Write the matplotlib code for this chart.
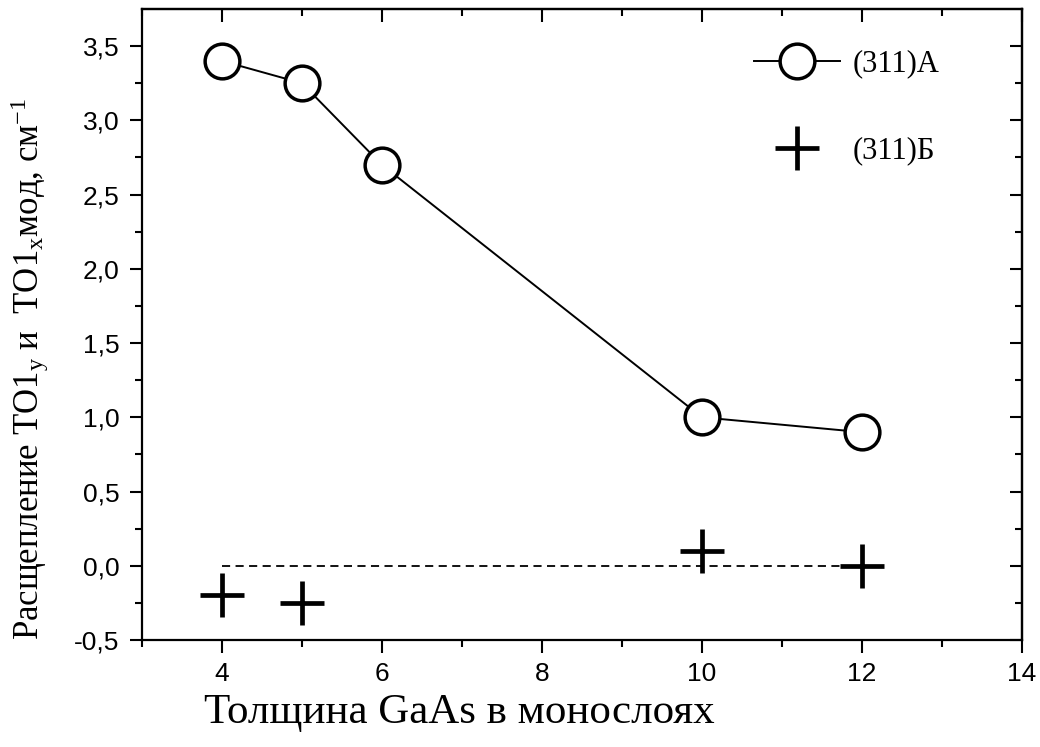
import matplotlib
matplotlib.use("Agg")
import matplotlib.pyplot as plt

# data
x_a = [4, 5, 6, 10, 12]
y_a = [3.4, 3.25, 2.7, 1.0, 0.9]
x_b = [4, 5, 10, 12]
y_b = [-0.2, -0.25, 0.1, 0.0]
zero_x = [4, 12]
zero_y = [0.0, 0.0]

x_ticks = [4, 6, 8, 10, 12, 14]
y_ticks = [-0.5, 0.0, 0.5, 1.0, 1.5, 2.0, 2.5, 3.0, 3.5]
y_ticklabels = [f"{v:.1f}".replace(".", ",") for v in y_ticks]

plt.rcParams["mathtext.fontset"] = "custom"
plt.rcParams["mathtext.rm"] = "Liberation Serif"
plt.rcParams["mathtext.it"] = "Liberation Serif:italic"

fig = plt.figure(figsize=(10.4, 7.47), dpi=100)
ax = fig.add_axes([0.1365, 0.1432, 0.8462, 0.8448])

ax.plot(zero_x, zero_y, ls=(0, (4.5, 3)), color="black", lw=1.3)
ax.plot(x_a, y_a, "-o", color="black", lw=1.4, ms=25, mfc="white", mec="black", mew=2.5,
        label="(311)A")
ax.plot(x_b, y_b, "+", color="black", ms=31, mew=3.4, ls="none", label="(311)Б")

ax.set_xlim(3, 14)
ax.set_ylim(-0.5, 3.75)
ax.set_xticks(x_ticks)
ax.set_xticks(range(3, 15, 2), minor=True)
ax.set_yticks(y_ticks)
ax.set_yticklabels(y_ticklabels)
ax.set_yticks([v + 0.25 for v in y_ticks[:-1]], minor=True)

for lab in ax.get_xticklabels() + ax.get_yticklabels():
    lab.set_fontfamily("Liberation Sans")
    lab.set_fontsize(19)

ax.tick_params(which="major", direction="out", length=9, width=1.5, pad=7)
ax.tick_params(which="minor", direction="out", length=5, width=1.5)
for s in ax.spines.values():
    s.set_linewidth(1.6)

# inward ticks on the top and right sides
top = ax.secondary_xaxis("top")
top.set_xticks(x_ticks)
top.set_xticks(range(3, 15, 2), minor=True)
top.tick_params(which="major", direction="in", length=9, width=1.5, labeltop=False)
top.tick_params(which="minor", direction="in", length=5, width=1.5)
top.spines["top"].set_linewidth(1.6)
right = ax.secondary_yaxis("right")
right.set_yticks(y_ticks)
right.set_yticks([v + 0.25 for v in y_ticks[:-1]], minor=True)
right.tick_params(which="major", direction="in", length=9, width=1.5, labelright=False)
right.tick_params(which="minor", direction="in", length=5, width=1.5)
right.spines["right"].set_linewidth(1.6)

ax.set_xlabel("Толщина GaAs в монослоях", family="Liberation Serif", fontsize=31, labelpad=2)
ax.xaxis.set_label_coords(0.361, -0.085)
ax.set_ylabel(r"Расщепление TO1$_\mathregular{y}$ и  TO1$_\mathregular{x}$мод, см$^\mathregular{-1}$",
              family="Liberation Serif", fontsize=25)
ax.yaxis.set_label_coords(-0.103, 0.43)

ax.legend(loc="upper right", bbox_to_anchor=(0.93, 0.97), frameon=False,
          prop={"family": "Liberation Serif", "size": 22},
          handlelength=2.8, handletextpad=0.4, labelspacing=1.9, borderpad=0.2)

fig.savefig("out.png", dpi=100)
